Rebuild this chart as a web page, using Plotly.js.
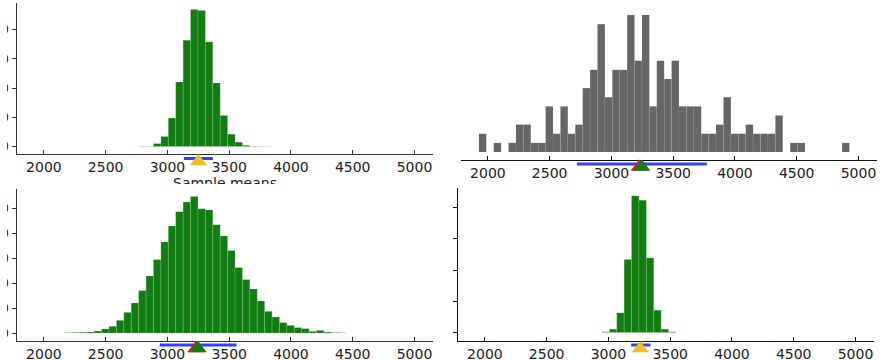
<!DOCTYPE html>
<html>
<head>
<meta charset="utf-8">
<script src="https://cdn.plot.ly/plotly-3.0.1.min.js"></script>
<style>
html,body{margin:0;padding:0;background:#fff;overflow:hidden;}
#clip{position:absolute;left:7px;top:0;width:875px;height:360px;overflow:hidden;}
#plot{margin-left:-7px;width:882px;height:360px;}
#cover{position:absolute;left:160px;top:184px;width:130px;height:9px;background:#fff;}
</style>
</head>
<body>
<div id="clip"><div id="plot"></div></div>
<div id="cover"></div>
<script>
// ---- data ----
const binStart = 1927;   // left edge of first histogram bin
const binWidth = 60;
const xTicks = [2000, 2500, 3000, 3500, 4000, 4500, 5000];

// top-left: sample means (green)
const tlFirstBin = 14;
const tlCounts = [3, 3, 50, 171, 486, 1103, 1817, 2343, 2326, 1789, 1086, 531, 211, 74, 20, 5, 2, 1];
const tlTicks = [0, 500, 1000, 1500, 2000];
const tlMean = 3251, tlCI = [3133, 3368];

// top-right: original sample (gray)
const trFirstBin = 0;
const trCounts = [2, 0, 1, 0, 1, 3, 3, 1, 1, 5, 2, 5, 2, 3, 7, 9, 14, 6, 9, 9,
                  15, 10, 15, 5, 10, 8, 10, 5, 5, 5, 2, 2, 3, 6, 2, 2, 3, 2, 2, 2,
                  4, 0, 1, 1, 0, 0, 0, 0, 0, 1];
const trMedian = 3225, trMean = 3246, trCI = [2720, 3772];

// bottom-left: wide bootstrap (green)
const blFirstBin = 4;
const blCounts = [2, 4, 6, 8, 16, 32, 53, 101, 165, 240, 339, 456, 587, 728, 856, 971, 1048, 1093,
                  995, 984, 867, 776, 659, 523, 427, 352, 256, 173, 128, 83, 61, 43, 35, 13, 21, 8, 4, 2];
const blTicks = [0, 200, 400, 600, 800, 1000];
const blMedian = 3230, blMean = 3248, blCI = [2938, 3559];

// bottom-right: narrow bootstrap (green)
const brFirstBin = 17;
const brCounts = [21, 107, 629, 2336, 4373, 4235, 2389, 715, 107, 21];
const brTicks = [0, 1000, 2000, 3000, 4000];
const brMean = 3257, brCI = [3184, 3340];

// ---- styling ----
const W = 882, H = 360;
const GREEN = 'rgb(17,124,17)';
const GRAY = 'rgb(102,102,102)';
const BLUE = 'rgb(45,65,255)';
const GOLD = 'rgb(240,190,40)';
const RED = 'rgb(235,20,20)';
const FONT = 'DejaVu Sans, sans-serif';
const STRIP = 18; // px height of the marker strip under each panel

function centers(first, counts) {
  return counts.map((_, i) => binStart + (first + i + 0.5) * binWidth);
}
function domX(a, b) { return [a / W, b / W]; }
function domY(top, bottom) { return [1 - bottom / H, 1 - top / H]; }

// panel pixel boxes: [x0, x1, y0, y1], plus y-axis scale (zero px, units per px)
const panels = {
  tl: {box: [17, 433, 3, 154], zeroPx: 146.5, upp: 500 / 29.25},
  tr: {box: [461, 877, 3, 160], zeroPx: 152, upp: 1 / 9.13},
  bl: {box: [17, 433, 189, 341], zeroPx: 333, upp: 200 / 25},
  br: {box: [458, 874, 188, 341], zeroPx: 332.5, upp: 1000 / 31.25},
};
function yRange(p) {
  const [x0, x1, y0, y1] = p.box;
  return [-(y1 - p.zeroPx) * p.upp, (p.zeroPx - y0) * p.upp];
}

const A = {
  tl: {x: 'x', y: 'y', sx: 'x5', sy: 'y5'},
  tr: {x: 'x2', y: 'y2', sx: 'x6', sy: 'y6'},
  bl: {x: 'x3', y: 'y3', sx: 'x7', sy: 'y7'},
  br: {x: 'x4', y: 'y4', sx: 'x8', sy: 'y8'}
};

const traces = [];
function hist(first, counts, color, ax, edge) {
  traces.push({
    type: 'bar', x: centers(first, counts), y: counts, width: binWidth,
    marker: {color: color, line: edge},
    xaxis: ax.x, yaxis: ax.y, hoverinfo: 'skip', showlegend: false
  });
}
// marker strip: y is pixel offset below the panel's x-axis line
function ci(ax, lo, hi, off) {
  traces.push({
    type: 'scatter', mode: 'lines', x: [lo, hi], y: [off, off],
    line: {color: BLUE, width: 3},
    xaxis: ax.sx, yaxis: ax.sy, hoverinfo: 'skip', showlegend: false
  });
}
function tri(ax, xv, color, off) {
  traces.push({
    type: 'scatter', mode: 'markers', x: [xv], y: [off],
    marker: {symbol: 'triangle-up', size: 15, color: color, line: {width: 0}},
    cliponaxis: false, xaxis: ax.sx, yaxis: ax.sy, hoverinfo: 'skip', showlegend: false
  });
}

const greenEdge = {color: 'rgba(190,235,190,0.35)', width: 0.6};
const grayEdge = {color: 'rgba(255,255,255,0.12)', width: 0.5};

hist(tlFirstBin, tlCounts, GREEN, A.tl, greenEdge);
hist(trFirstBin, trCounts, GRAY, A.tr, grayEdge);
hist(blFirstBin, blCounts, GREEN, A.bl, greenEdge);
hist(brFirstBin, brCounts, GREEN, A.br, greenEdge);

ci(A.tl, tlCI[0], tlCI[1], 4.5);
tri(A.tl, tlMean, GOLD, 7.5);

ci(A.tr, trCI[0], trCI[1], 4);
tri(A.tr, trMedian, RED, 7);
tri(A.tr, trMean, GREEN, 7);

ci(A.bl, blCI[0], blCI[1], 4);
tri(A.bl, blMedian, RED, 7.5);
tri(A.bl, blMean, GREEN, 7.5);

ci(A.br, brCI[0], brCI[1], 4);
tri(A.br, brMean, GOLD, 7.5);

const xRange = [1782, 5150];
function xax(p, lineColor, anchor, extra) {
  return Object.assign({
    domain: domX(p.box[0], p.box[1]), range: xRange, anchor: anchor,
    showline: true, linecolor: lineColor, linewidth: 1.3, mirror: false,
    ticks: 'inside', ticklen: 4, tickcolor: lineColor, tickwidth: 1,
    tickvals: xTicks, ticktext: xTicks.map(String),
    tickfont: {family: FONT, size: 14, color: '#222'},
    showgrid: false, zeroline: false, fixedrange: true
  }, extra || {});
}
function yax(p, ticksArr, show, labels, lineColor, anchor) {
  return {
    domain: domY(p.box[2], p.box[3]), range: yRange(p), anchor: anchor,
    showline: show, linecolor: lineColor, linewidth: 1.3,
    ticks: show ? 'outside' : '', ticklen: 4, tickcolor: lineColor,
    tickvals: show ? ticksArr : [], ticktext: ticksArr.map(String),
    showticklabels: labels, tickfont: {family: FONT, size: 14, color: '#222'},
    ticklabelstandoff: 0,
    showgrid: false, zeroline: false, fixedrange: true
  };
}
function stripX(p, anchor) {
  return {domain: domX(p.box[0], p.box[1]), range: xRange, anchor: anchor,
          visible: false, fixedrange: true};
}
function stripY(p, anchor) {
  return {domain: domY(p.box[3], p.box[3] + STRIP), range: [STRIP, 0], anchor: anchor,
          visible: false, fixedrange: true};
}

const layout = {
  width: W, height: H, autosize: false,
  margin: {l: 0, r: 0, t: 0, b: 0, pad: 0},
  paper_bgcolor: '#fff', plot_bgcolor: 'rgba(0,0,0,0)',
  bargap: 0, barmode: 'overlay', showlegend: false,
  xaxis: xax(panels.tl, '#333', 'y',
    {title: {text: 'Sample means', font: {family: FONT, size: 14, color: '#222'}, standoff: 4}}),
  yaxis: yax(panels.tl, tlTicks, true, true, '#333', 'x'),
  xaxis2: xax(panels.tr, '#111', 'y2'),
  yaxis2: yax(panels.tr, [], false, false, '#111', 'x2'),
  xaxis3: xax(panels.bl, '#333', 'y3'),
  yaxis3: yax(panels.bl, blTicks, true, true, '#333', 'x3'),
  xaxis4: xax(panels.br, '#111', 'y4'),
  yaxis4: yax(panels.br, brTicks, true, false, '#111', 'x4'),
  xaxis5: stripX(panels.tl, 'y5'), yaxis5: stripY(panels.tl, 'x5'),
  xaxis6: stripX(panels.tr, 'y6'), yaxis6: stripY(panels.tr, 'x6'),
  xaxis7: stripX(panels.bl, 'y7'), yaxis7: stripY(panels.bl, 'x7'),
  xaxis8: stripX(panels.br, 'y8'), yaxis8: stripY(panels.br, 'x8'),
};

Plotly.newPlot('plot', traces, layout, {displayModeBar: false, staticPlot: true});
</script>
</body>
</html>
